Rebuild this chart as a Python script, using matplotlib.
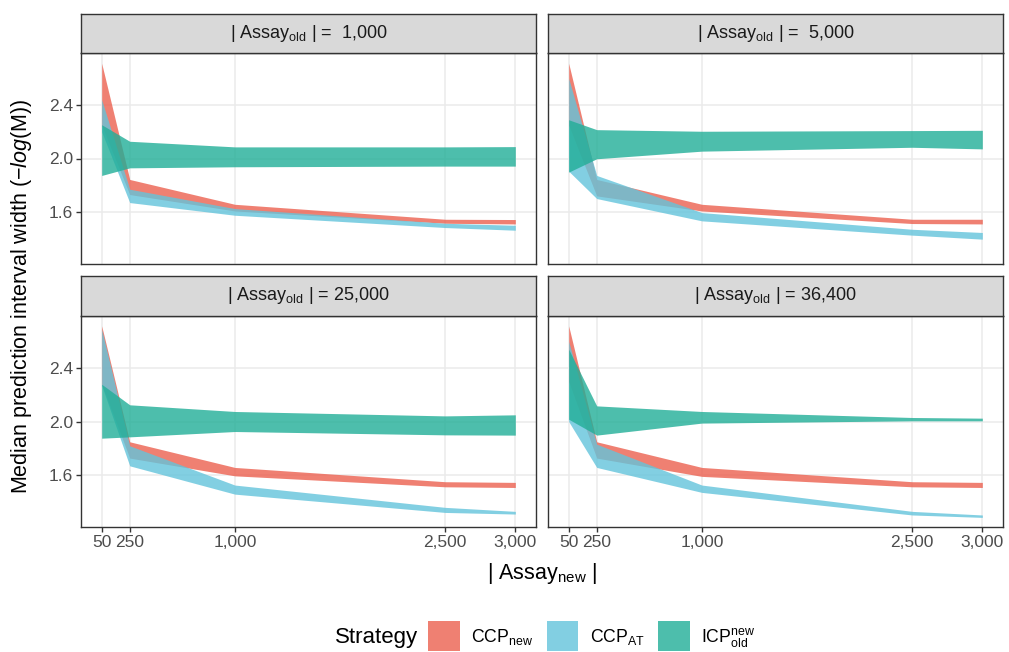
import matplotlib
matplotlib.use("Agg")
import matplotlib.pyplot as plt
from matplotlib.patches import Patch

plt.rcParams['font.family'] = ['Liberation Sans', 'DejaVu Sans']
plt.rcParams['mathtext.fontset'] = 'custom'
plt.rcParams['mathtext.rm'] = 'Liberation Sans'
plt.rcParams['mathtext.it'] = 'Liberation Sans:italic'
plt.rcParams['mathtext.bf'] = 'Liberation Sans:bold'

# ---------------- data ----------------
x_new = [50, 250, 1000, 2500, 3000]
x_ticks = [50, 250, 1000, 2500, 3000]
x_ticklabels = ["50", "250", "1,000", "2,500", "3,000"]
y_ticks = [1.6, 2.0, 2.4]
y_ticklabels = ["1.6", "2.0", "2.4"]

panel_titles = ["| Assay$_{\\mathrm{old}}$ | =  1,000", "| Assay$_{\\mathrm{old}}$ | =  5,000",
                "| Assay$_{\\mathrm{old}}$ | = 25,000", "| Assay$_{\\mathrm{old}}$ | = 36,400"]

strategies = ["CCP$_{\\mathrm{new}}$", "CCP$_{\\mathrm{AT}}$", "ICP$^{\\mathrm{new}}_{\\mathrm{old}}$"]

# old = 1,000
ccp_new_lo_1000 = [2.25, 1.73, 1.607, 1.515, 1.51]
ccp_new_hi_1000 = [2.713, 1.843, 1.657, 1.545, 1.543]
ccp_at_lo_1000 = [2.20, 1.67, 1.575, 1.483, 1.463]
ccp_at_hi_1000 = [2.44, 1.77, 1.625, 1.515, 1.50]
icp_lo_1000 = [1.873, 1.93, 1.938, 1.943, 1.943]
icp_hi_1000 = [2.253, 2.129, 2.087, 2.087, 2.089]

# old = 5,000
ccp_new_lo_5000 = [2.25, 1.72, 1.607, 1.513, 1.51]
ccp_new_hi_5000 = [2.713, 1.843, 1.657, 1.545, 1.545]
ccp_at_lo_5000 = [1.905, 1.70, 1.533, 1.426, 1.396]
ccp_at_hi_5000 = [2.60, 1.873, 1.595, 1.47, 1.446]
icp_lo_5000 = [1.898, 1.998, 2.055, 2.084, 2.072]
icp_hi_5000 = [2.29, 2.216, 2.204, 2.209, 2.211]

# old = 25,000
ccp_new_lo_25000 = [2.28, 1.726, 1.593, 1.511, 1.506]
ccp_new_hi_25000 = [2.716, 1.848, 1.656, 1.549, 1.544]
ccp_at_lo_25000 = [2.27, 1.668, 1.456, 1.319, 1.307]
ccp_at_hi_25000 = [2.69, 1.818, 1.524, 1.357, 1.327]
icp_lo_25000 = [1.875, 1.885, 1.925, 1.90, 1.898]
icp_hi_25000 = [2.279, 2.125, 2.075, 2.042, 2.05]

# old = 36,400
ccp_new_lo_36400 = [2.30, 1.726, 1.589, 1.511, 1.506]
ccp_new_hi_36400 = [2.716, 1.848, 1.656, 1.549, 1.544]
ccp_at_lo_36400 = [2.0, 1.656, 1.469, 1.30, 1.282]
ccp_at_hi_36400 = [2.60, 1.83, 1.524, 1.327, 1.30]
icp_lo_36400 = [2.017, 1.898, 1.988, 2.005, 2.005]
icp_hi_36400 = [2.541, 2.117, 2.075, 2.03, 2.025]

panels = [
    [(ccp_new_lo_1000, ccp_new_hi_1000), (ccp_at_lo_1000, ccp_at_hi_1000), (icp_lo_1000, icp_hi_1000)],
    [(ccp_new_lo_5000, ccp_new_hi_5000), (ccp_at_lo_5000, ccp_at_hi_5000), (icp_lo_5000, icp_hi_5000)],
    [(ccp_new_lo_25000, ccp_new_hi_25000), (ccp_at_lo_25000, ccp_at_hi_25000), (icp_lo_25000, icp_hi_25000)],
    [(ccp_new_lo_36400, ccp_new_hi_36400), (ccp_at_lo_36400, ccp_at_hi_36400), (icp_lo_36400, icp_hi_36400)],
]

colors = ["#EC604F", "#63C4DB", "#21AE97"]
ALPHA = 0.8

# ---------------- layout ----------------
W, H = 1009, 652
fig = plt.figure(figsize=(W / 100, H / 100), dpi=100)
fig.patch.set_facecolor("white")

def rect(x0, y0, x1, y1):
    return [x0 / W, 1 - y1 / H, (x1 - x0) / W, (y1 - y0) / H]

col_x = [(81, 536), (548, 1003)]
row_y = [(53, 264), (316, 527)]
strip_y = [(14, 53), (276, 316)]

border_col = "#333333"
for i in range(4):
    r, c = divmod(i, 2)
    x0, x1 = col_x[c]
    y0, y1 = row_y[r]
    ax = fig.add_axes(rect(x0, y0, x1, y1))
    ax.set_facecolor("white")
    for k, (lo, hi) in enumerate(panels[i]):
        ax.fill_between(x_new, lo, hi, color=colors[k], alpha=ALPHA, linewidth=0, zorder=2 + k)
    ax.set_xlim(-97.5, 3147.5)
    ax.set_ylim(1.21, 2.79)
    ax.set_xticks(x_ticks)
    ax.set_yticks(y_ticks)
    ax.grid(True, color="#EBEBEB", linewidth=1.1, zorder=0)
    ax.set_axisbelow(True)
    for s in ax.spines.values():
        s.set_color(border_col)
        s.set_linewidth(1.0)
        s.set_zorder(10)
    ax.tick_params(direction="out", length=3.5, width=1.0, color=border_col,
                   labelcolor="#4D4D4D", labelsize=12.5, pad=2)
    if c == 0:
        ax.set_yticklabels(y_ticklabels)
    else:
        ax.tick_params(axis="y", length=0, labelleft=False)
    if r == 1:
        ax.set_xticklabels(x_ticklabels)
    else:
        ax.tick_params(axis="x", length=0, labelbottom=False)

    sy0, sy1 = strip_y[r]
    sax = fig.add_axes(rect(x0, sy0, x1, sy1))
    sax.set_facecolor("#D9D9D9")
    sax.set_xticks([])
    sax.set_yticks([])
    for s in sax.spines.values():
        s.set_color(border_col)
        s.set_linewidth(1.0)
    sax.text(0.5, 0.5, panel_titles[i], ha="center", va="center", fontsize=13,
             color="#1A1A1A", transform=sax.transAxes)

# axis titles
fig.text(22 / W, 1 - 296 / H, "Median prediction interval width ($-\\mathit{log}$(M))",
         rotation=90, ha="center", va="center", fontsize=15.5, color="black")
fig.text(542 / W, 1 - 574 / H, "| Assay$_{\\mathrm{new}}$ |", ha="center", va="center",
         fontsize=15.5, color="black")

# legend
handles = [Patch(facecolor=colors[k], alpha=ALPHA, edgecolor="none") for k in range(3)]
fig.text(335 / W, 1 - 637 / H, "Strategy", ha="left", va="center", fontsize=16, color="black")
leg = fig.legend(handles, strategies, loc="center left", bbox_to_anchor=(428 / W, 1 - 636 / H),
                 ncol=3, frameon=False, fontsize=12.7, handlelength=1.8, handleheight=2.16,
                 handletextpad=0.65, columnspacing=0.75, borderaxespad=0, borderpad=0)

fig.savefig("out.png", dpi=100, facecolor="white")
